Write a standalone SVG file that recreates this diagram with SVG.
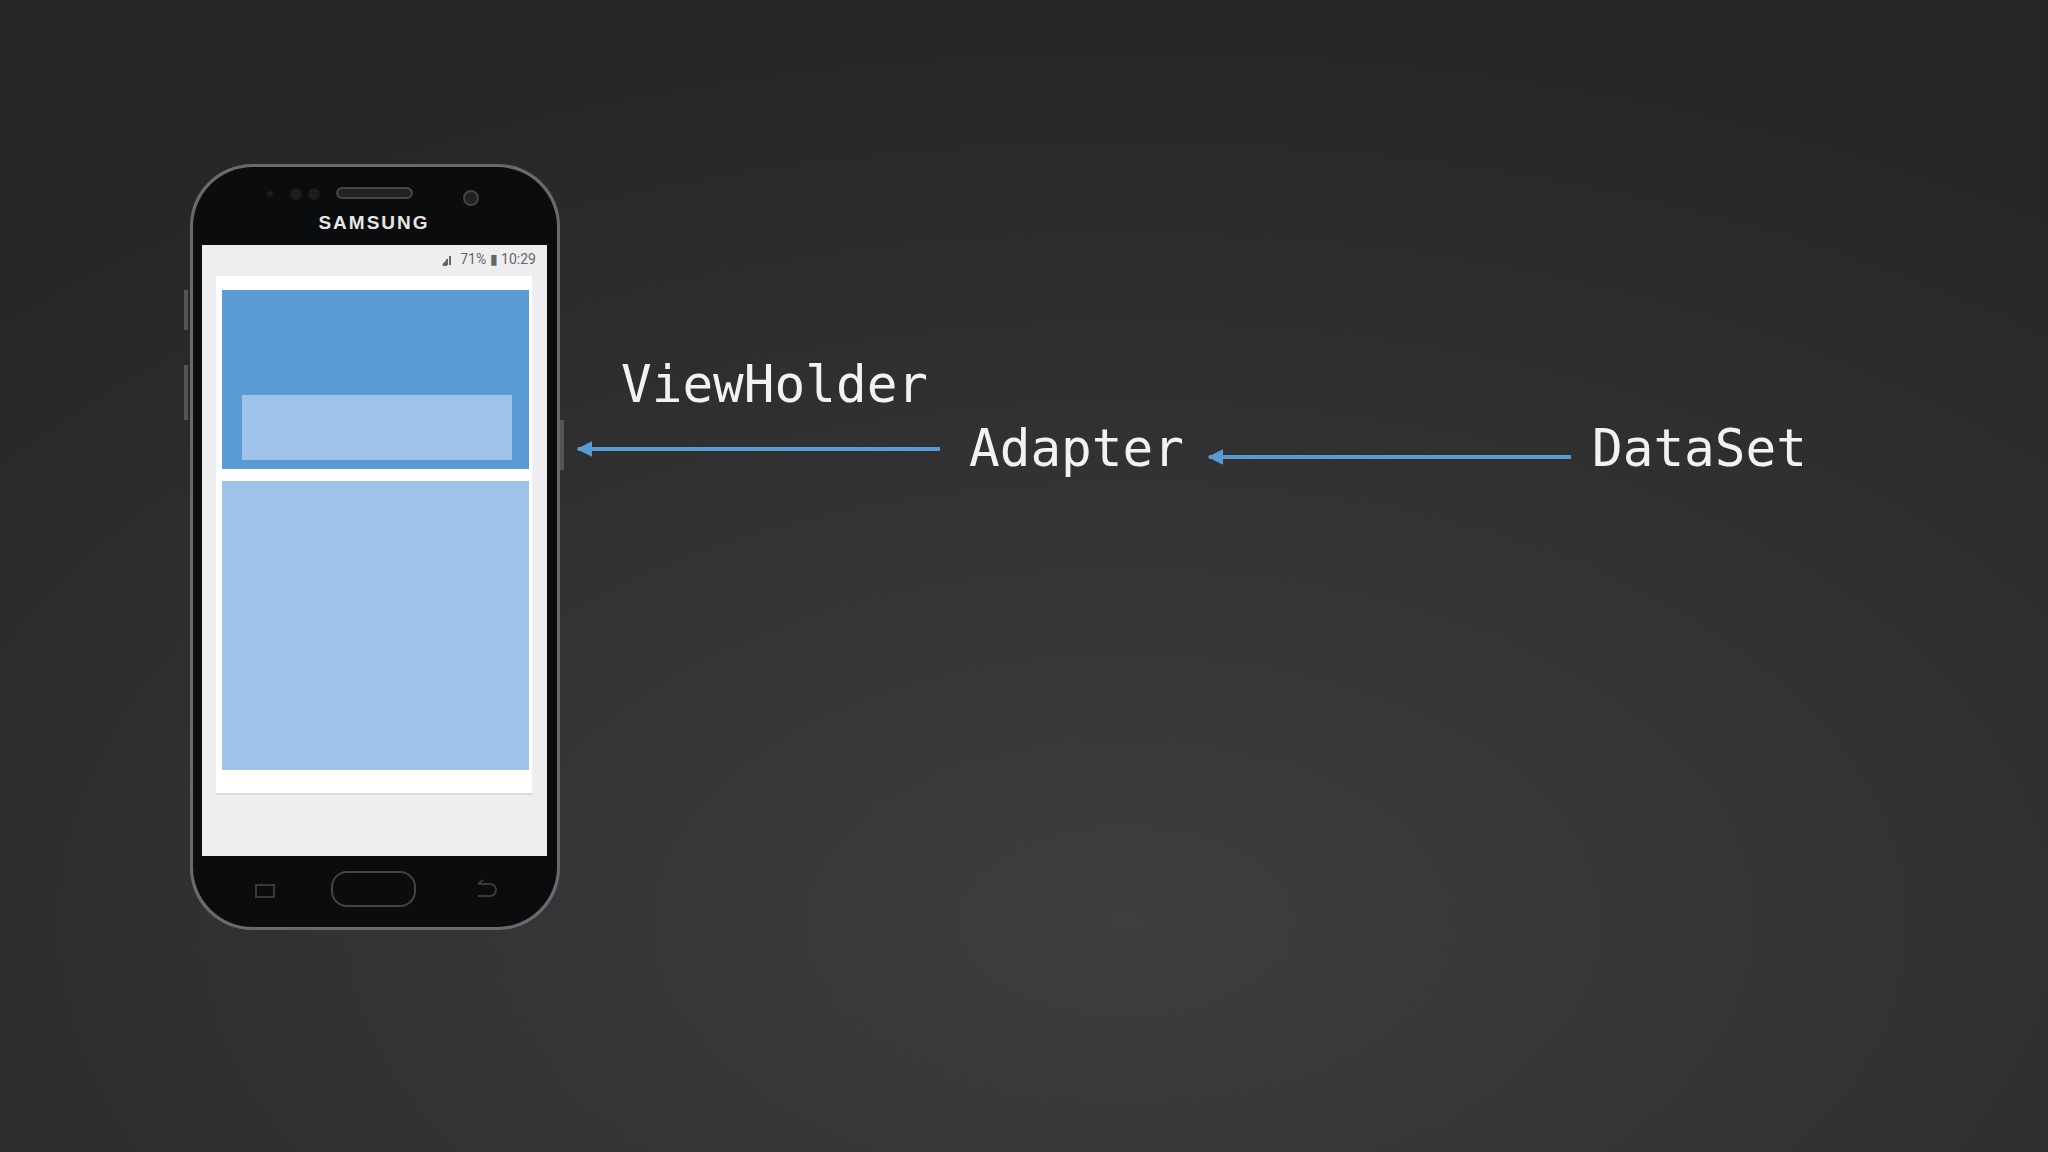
<svg xmlns="http://www.w3.org/2000/svg" width="2048" height="1152" viewBox="0 0 2048 1152">
<defs>
<radialGradient id="bg" cx="0.55" cy="0.8" r="0.8">
<stop offset="0" stop-color="#3e3d40"/>
<stop offset="1" stop-color="#262626"/>
</radialGradient>
<marker id="ah" viewBox="0 0 10 10" refX="9" refY="5" markerWidth="4" markerHeight="4" orient="auto">
<path d="M0,0 L10,5 L0,10 Z" fill="#5a9ad4"/>
</marker>
<style>
.lbl{font-family:"DejaVu Sans Mono",monospace;font-size:51px;fill:#f2f2f2}
.con{stroke:#5a9ad4;stroke-width:4;fill:none}
</style>
</defs>
<rect width="2048" height="1152" fill="url(#bg)"/>
<g id="phone">
<rect x="190" y="164" width="370" height="766" rx="62" fill="#6a6a6e"/>
<rect x="193" y="167" width="364" height="760" rx="60" fill="#0b0c0e"/>
<rect x="184" y="290" width="4" height="40" fill="#555"/>
<rect x="184" y="365" width="4" height="55" fill="#555"/>
<rect x="560" y="420" width="4" height="50" fill="#555"/>
<rect x="337" y="188" width="75" height="10" rx="5" fill="#222" stroke="#555" stroke-width="1.5"/>
<circle cx="296" cy="194" r="6" fill="#1c1c1e"/>
<circle cx="314" cy="194" r="6" fill="#1c1c1e"/>
<circle cx="270" cy="194" r="3" fill="#1c1c1e"/>
<circle cx="471" cy="198" r="7" fill="#222" stroke="#444" stroke-width="2"/>
<text x="374" y="229" font-family="Liberation Sans, sans-serif" font-weight="bold" font-size="19" letter-spacing="2" fill="#e6e6e6" text-anchor="middle">SAMSUNG</text>
<rect x="202" y="245" width="345" height="611" fill="#eeeef0"/>
<path d="M443,265 l3,0 l0,-3 l-3,3 M447,265 v-6 M450,265 v-9" stroke="#666" stroke-width="2"/>
<text x="536" y="264" font-family="Roboto, sans-serif" font-size="14" fill="#666" text-anchor="end">71% ▮ 10:29</text>
<rect x="216" y="278" width="316" height="517" fill="#d9d9dc"/>
<rect x="216" y="276" width="316" height="517" fill="#ffffff"/>
<rect x="222" y="290" width="307" height="179" fill="#5b9bd5"/>
<rect x="242" y="395" width="270" height="65" fill="#9fc3e8"/>
<rect x="222" y="481" width="307" height="289" fill="#9fc3e8"/>
<rect x="332" y="872" width="83" height="34" rx="15" fill="#0a0c0e" stroke="#444" stroke-width="2"/>
<rect x="256" y="885" width="18" height="12" fill="none" stroke="#3a3a3a" stroke-width="2"/>
<path d="M478,884 h12 a6,6 0 0 1 0,12 h-12 M478,884 l5,-4" fill="none" stroke="#3a3a3a" stroke-width="2"/>
</g>
<g id="connectors">
<line class="con" x1="940" y1="449" x2="578" y2="449" marker-end="url(#ah)"/>
<line class="con" x1="1571" y1="457" x2="1209" y2="457" marker-end="url(#ah)"/>
</g>
<g id="viewholder"><text class="lbl" x="621" y="402">ViewHolder</text></g>
<g id="adapter"><text class="lbl" x="969" y="466">Adapter</text></g>
<g id="dataset"><text class="lbl" x="1592" y="466">DataSet</text></g>
</svg>
